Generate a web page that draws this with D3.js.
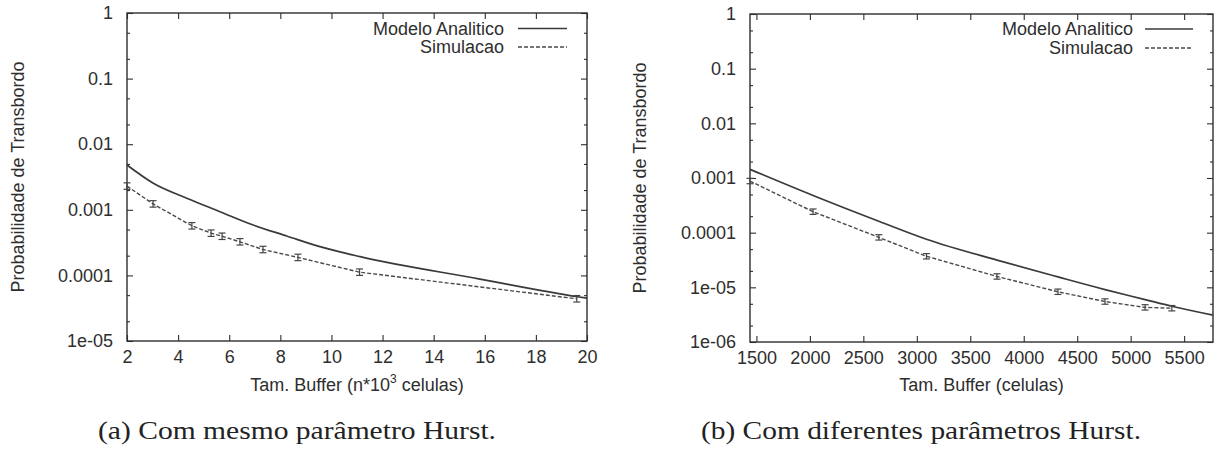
<!DOCTYPE html>
<html>
<head>
<meta charset="utf-8">
<script src="https://cdn.jsdelivr.net/npm/d3@7"></script>
<style>
  html, body { margin: 0; padding: 0; background: #fff; }
  svg { display: block; }
</style>
</head>
<body>
<svg id="chart" width="1217" height="469"></svg>
<script>
// ---------- Data ----------
// Panel (a): Tam. Buffer in n*10^3 celulas
const aModelX = [2, 3.03, 4.34, 5.64, 6.94, 8.25, 9.55, 11.12, 15.81, 19.63, 20];
const aModel  = [4.82e-3, 2.54e-3, 1.50e-3, 9.35e-4, 5.86e-4, 3.99e-4, 2.74e-4, 1.93e-4, 8.8e-5, 4.73e-5, 4.5e-5];
const aSimX   = [2, 3.02, 4.54, 5.29, 5.72, 6.42, 7.32, 8.69, 11.1, 19.6];
const aSim    = [2.3e-3, 1.23e-3, 5.7e-4, 4.4e-4, 3.95e-4, 3.25e-4, 2.48e-4, 1.88e-4, 1.12e-4, 4.4e-5];
const aXTicks = [2, 4, 6, 8, 10, 12, 14, 16, 18, 20];
const aYTicks = [1, 0.1, 0.01, 0.001, 0.0001, 1e-5];
const aYLabels = ["1", "0.1", "0.01", "0.001", "0.0001", "1e-05"];

// Panel (b): Tam. Buffer in celulas
const bModelX = [1440, 2030, 2645, 3090, 3750, 4320, 4760, 5135, 5385, 5770];
const bModel  = [1.44e-3, 4.8e-4, 1.62e-4, 7.6e-5, 3.15e-5, 1.55e-5, 9.1e-6, 5.97e-6, 4.5e-6, 3.1e-6];
const bSimX   = [1440, 2030, 2645, 3090, 3750, 4320, 4760, 5135, 5385];
const bSim    = [8.8e-4, 2.42e-4, 8.2e-5, 3.7e-5, 1.58e-5, 8.3e-6, 5.5e-6, 4.3e-6, 4.15e-6];
const bXTicks = [1500, 2000, 2500, 3000, 3500, 4000, 4500, 5000, 5500];
const bYTicks = [1, 0.1, 0.01, 0.001, 0.0001, 1e-5, 1e-6];
const bYLabels = ["1", "0.1", "0.01", "0.001", "0.0001", "1e-05", "1e-06"];

const seriesNames = ["Modelo Analitico", "Simulacao"];
const yTitle = "Probabilidade de Transbordo";
const captions = ["(a) Com mesmo parâmetro Hurst.", "(b) Com diferentes parâmetros Hurst."];
const errFactor = 1.12; // relative half-size of the simulation error bars

// ---------- Drawing ----------
const svg = d3.select("#chart");
svg.append("rect").attr("width", 1217).attr("height", 469).attr("fill", "#fff");

const INK = "#2e2e2e";
const LINE = "#3a3a3a";
const SANS = '"Liberation Sans", Arial, Helvetica, sans-serif';

function minorTicks(domain) {
  const out = [];
  const lo = Math.round(Math.log10(domain[0])), hi = Math.round(Math.log10(domain[1]));
  for (let e = lo; e < hi; e++) {
    [2, 5].forEach(m => out.push(m * Math.pow(10, e)));
  }
  return out;
}

function panel(cfg) {
  const g = svg.append("g");
  const x = d3.scaleLinear().domain(cfg.xDomain).range([cfg.left, cfg.right]);
  const y = d3.scaleLog().domain(cfg.yDomain).range([cfg.bottom, cfg.top]);

  const styleAxis = sel => {
    sel.select(".domain").remove();
    sel.selectAll(".tick line").attr("stroke", INK).attr("stroke-width", 1.1);
    sel.selectAll(".tick text").attr("fill", INK).attr("font-size", 18).attr("font-family", SANS);
  };

  g.append("g").attr("transform", `translate(${cfg.left},0)`)
    .call(d3.axisLeft(y).tickValues(cfg.yTicks).tickSize(-6).tickPadding(14)
      .tickFormat((d, i) => cfg.yLabels[i]))
    .call(styleAxis);
  g.append("g").attr("transform", `translate(${cfg.right},0)`)
    .call(d3.axisRight(y).tickValues(cfg.yTicks).tickSize(-6).tickFormat(""))
    .call(styleAxis);
  const mt = minorTicks(cfg.yDomain);
  g.append("g").attr("transform", `translate(${cfg.left},0)`)
    .call(d3.axisLeft(y).tickValues(mt).tickSize(-3).tickFormat(""))
    .call(styleAxis);
  g.append("g").attr("transform", `translate(${cfg.right},0)`)
    .call(d3.axisRight(y).tickValues(mt).tickSize(-3).tickFormat(""))
    .call(styleAxis);
  g.append("g").attr("transform", `translate(0,${cfg.bottom})`)
    .call(d3.axisBottom(x).tickValues(cfg.xTicks).tickSize(-6).tickPadding(9)
      .tickFormat(d3.format("d")))
    .call(styleAxis);
  g.append("g").attr("transform", `translate(0,${cfg.top})`)
    .call(d3.axisTop(x).tickValues(cfg.xTicks).tickSize(-6).tickFormat(""))
    .call(styleAxis);

  g.append("rect")
    .attr("x", cfg.left).attr("y", cfg.top)
    .attr("width", cfg.right - cfg.left).attr("height", cfg.bottom - cfg.top)
    .attr("fill", "none").attr("stroke", INK).attr("stroke-width", 1.4);

  // model line (smooth analytic curve)
  const mData = cfg.modelX.map((v, i) => [v, cfg.model[i]]);
  g.append("path").datum(mData)
    .attr("d", d3.line().curve(d3.curveMonotoneX).x(d => x(d[0])).y(d => y(d[1])))
    .attr("fill", "none").attr("stroke", LINE).attr("stroke-width", 1.7);

  // simulation line
  const sData = cfg.simX.map((v, i) => [v, cfg.sim[i]]);
  g.append("path").datum(sData)
    .attr("d", d3.line().x(d => x(d[0])).y(d => y(d[1])))
    .attr("fill", "none").attr("stroke", "#4a4a4a").attr("stroke-width", 1.4)
    .attr("stroke-dasharray", "4,2");

  // error bars
  const eb = g.append("g").attr("stroke", "#444").attr("stroke-width", 1.2);
  sData.forEach(d => {
    const cx = x(d[0]);
    const y1 = y(d[1] / errFactor), y2 = y(d[1] * errFactor);
    eb.append("line").attr("x1", cx).attr("x2", cx).attr("y1", y1).attr("y2", y2);
    eb.append("line").attr("x1", cx - 3.5).attr("x2", cx + 3.5).attr("y1", y1).attr("y2", y1);
    eb.append("line").attr("x1", cx - 3.5).attr("x2", cx + 3.5).attr("y1", y2).attr("y2", y2);
  });

  // legend
  const lg = g.append("g");
  seriesNames.forEach((name, i) => {
    const ly = cfg.legendY[i];
    lg.append("text").attr("x", cfg.legendTextX).attr("y", ly)
      .attr("dy", "0.35em").attr("text-anchor", "end")
      .attr("font-family", SANS).attr("font-size", 18).attr("fill", INK)
      .text(name);
    lg.append("line").attr("x1", cfg.legendLine[0]).attr("x2", cfg.legendLine[1])
      .attr("y1", ly).attr("y2", ly)
      .attr("stroke", i === 0 ? LINE : "#4a4a4a")
      .attr("stroke-width", i === 0 ? 1.7 : 1.4)
      .attr("stroke-dasharray", i === 0 ? null : "4,2");
  });

  // y title
  g.append("text")
    .attr("transform", `translate(${cfg.yTitleX},${(cfg.top + cfg.bottom) / 2}) rotate(-90)`)
    .attr("text-anchor", "middle").attr("dy", "0.35em")
    .attr("font-family", SANS).attr("font-size", 18).attr("fill", INK)
    .text(yTitle);

  // x title
  const xt = g.append("text")
    .attr("x", (cfg.left + cfg.right) / 2).attr("y", 391)
    .attr("text-anchor", "middle")
    .attr("font-family", SANS).attr("font-size", 18).attr("fill", INK);
  cfg.xTitle(xt);

  // caption
  g.append("text")
    .attr("x", cfg.captionX).attr("y", 439)
    .attr("text-anchor", "middle")
    .attr("font-family", '"Liberation Serif", "Times New Roman", serif')
    .attr("font-size", 26).attr("fill", "#222")
    .attr("textLength", cfg.captionLen).attr("lengthAdjust", "spacingAndGlyphs")
    .text(cfg.caption);
}

panel({
  left: 127, right: 587, top: 13, bottom: 341,
  xDomain: [2, 20], xTicks: aXTicks,
  yDomain: [1e-5, 1], yTicks: aYTicks, yLabels: aYLabels,
  modelX: aModelX, model: aModel, simX: aSimX, sim: aSim,
  legendTextX: 504, legendLine: [518, 567], legendY: [28.5, 47],
  yTitleX: 17.5,
  xTitle: t => {
    t.append("tspan").text("Tam. Buffer (n*10");
    t.append("tspan").attr("font-size", 12).attr("dy", -8).text("3");
    t.append("tspan").attr("dy", 8).text(" celulas)");
  },
  caption: captions[0], captionX: 297, captionLen: 398
});

panel({
  left: 750, right: 1213, top: 14, bottom: 342,
  xDomain: [1440, 5770], xTicks: bXTicks,
  yDomain: [1e-6, 1], yTicks: bYTicks, yLabels: bYLabels,
  modelX: bModelX, model: bModel, simX: bSimX, sim: bSim,
  legendTextX: 1133, legendLine: [1145, 1193], legendY: [29, 48],
  yTitleX: 639.5,
  xTitle: t => { t.text("Tam. Buffer (celulas)"); },
  caption: captions[1], captionX: 921, captionLen: 440
});
</script>
</body>
</html>
